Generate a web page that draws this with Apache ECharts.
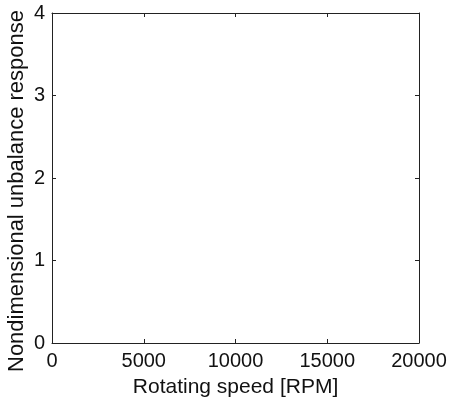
<!DOCTYPE html>
<html>
<head>
<meta charset="utf-8">
<script src="https://cdn.jsdelivr.net/npm/echarts@6/dist/echarts.min.js"></script>
<style>html,body{margin:0;padding:0;background:#fff}#c{width:449px;height:400px}</style>
</head>
<body>
<div id="c"></div>
<script>
const xMin = 0, xMax = 20000, xStep = 5000;
const yMin = 0, yMax = 4, yStep = 1;
const xTitle = 'Rotating speed [RPM]';
const yTitle = 'Nondimensional unbalance response';
const seriesData = [];

const font = 'Liberation Sans, Arial, sans-serif';
const lineCol = '#222';
const chart = echarts.init(document.getElementById('c'));
const base = {
  axisLine: {show: true, onZero: false, lineStyle: {color: lineCol, width: 1}},
  axisTick: {show: true, inside: true, length: 4, lineStyle: {color: lineCol}},
  splitLine: {show: false}
};
chart.setOption({
  animation: false,
  grid: {left: 52, right: 30, top: 13, bottom: 57, containLabel: false, outerBoundsMode: 'none'},
  xAxis: [
    Object.assign({}, base, {type: 'value', min: xMin, max: xMax, interval: xStep, position: 'bottom',
      name: xTitle, nameLocation: 'middle', nameGap: 34, nameMoveOverlap: false,
      nameTextStyle: {fontFamily: font, fontSize: 21, color: '#111'},
      axisLabel: {fontFamily: font, fontSize: 20, color: '#111', margin: 8, formatter: v => String(v)}}),
    Object.assign({}, base, {type: 'value', min: xMin, max: xMax, interval: xStep, position: 'top',
      axisLabel: {show: false}})
  ],
  yAxis: [
    Object.assign({}, base, {type: 'value', min: yMin, max: yMax, interval: yStep, position: 'left',
      name: yTitle, nameLocation: 'middle', nameGap: 24, nameMoveOverlap: false,
      nameTextStyle: {fontFamily: font, fontSize: 22, color: '#111', padding: [0, 26, 0, 0]},
      axisLabel: {fontFamily: font, fontSize: 20, color: '#111', margin: 7, formatter: v => String(v)}}),
    Object.assign({}, base, {type: 'value', min: yMin, max: yMax, interval: yStep, position: 'right',
      axisLabel: {show: false}})
  ],
  series: [{type: 'line', data: seriesData, xAxisIndex: 0, yAxisIndex: 0, showSymbol: false}]
});
</script>
</body>
</html>
